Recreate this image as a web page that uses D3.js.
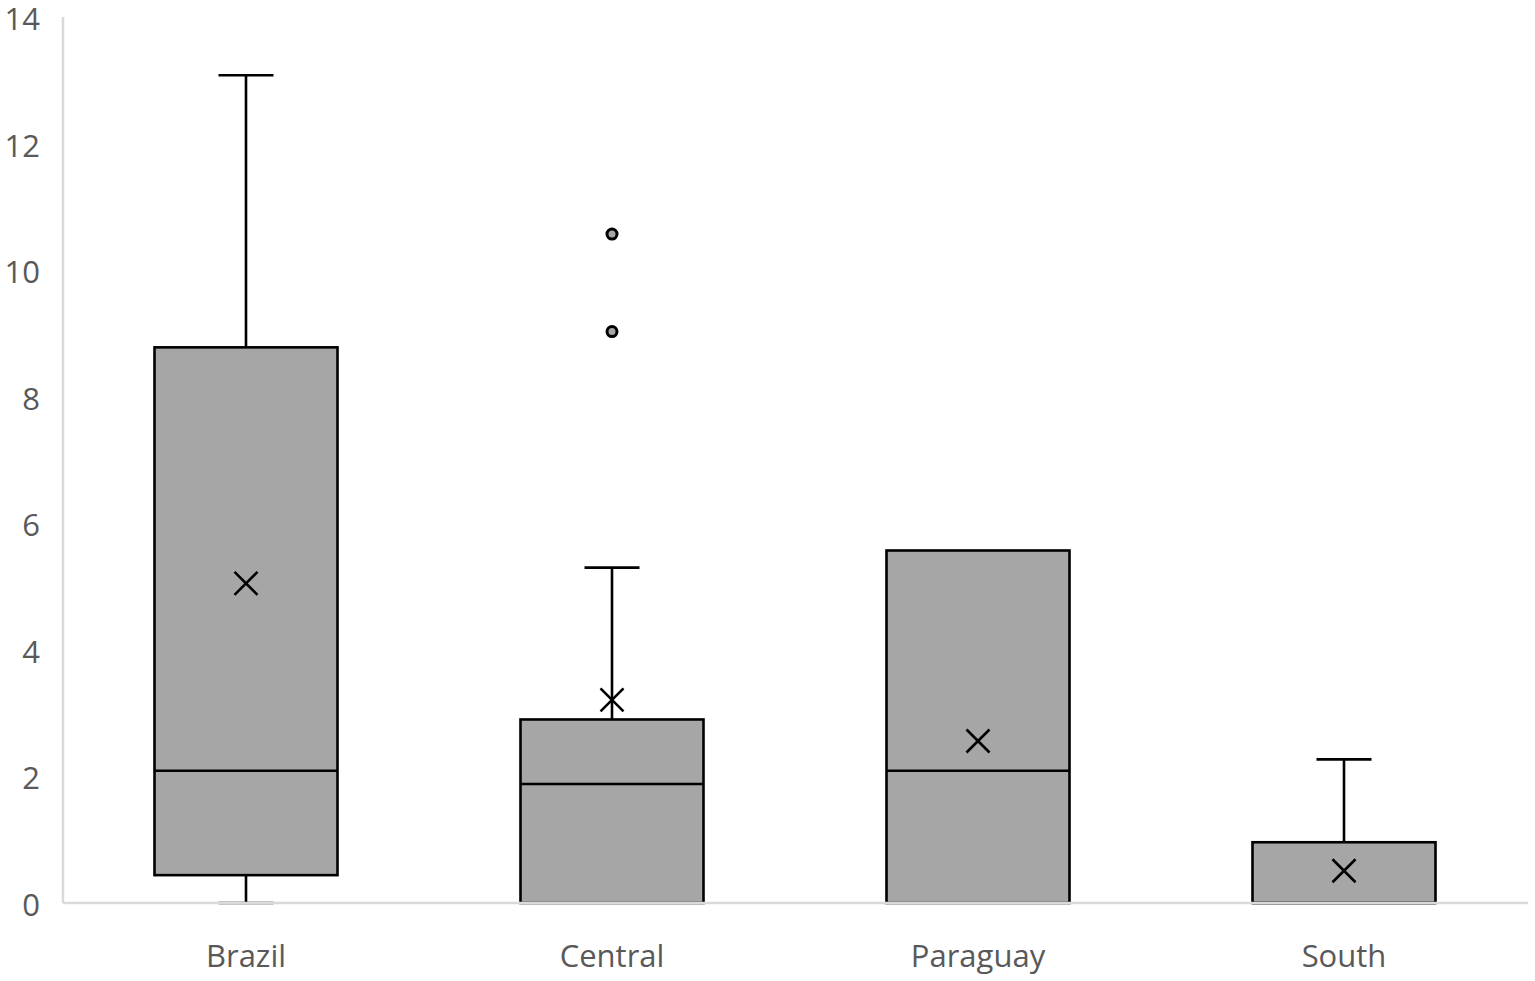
<!DOCTYPE html>
<html>
<head>
<meta charset="utf-8">
<script src="https://cdn.jsdelivr.net/npm/d3@7"></script>
<style>
  body { margin: 0; background: #fff; }
  text { font-family: "Open Sans", "Noto Sans", sans-serif; fill: #595959; }
</style>
</head>
<body>
<svg id="chart" width="1535" height="981"></svg>
<script>
const categories = ["Brazil", "Central", "Paraguay", "South"];
const whiskerLow = [0, 0, 0, 0];
const q1 = [0.44, 0, 0, 0];
const median = [2.09, 1.88, 2.09, 0];
const q3 = [8.78, 2.90, 5.57, 0.96];
const whiskerHigh = [13.08, 5.30, 5.57, 2.27];
const means = [5.05, 3.21, 2.56, 0.51];
const outliers = [[], [9.03, 10.57], [], []];
const yTicks = [0, 2, 4, 6, 8, 10, 12, 14];

const margin = { left: 63, top: 17, right: 8, bottom: 78 };
const width = 1535, height = 981;
const boxFill = "#a6a6a6";
const axisColor = "#d9d9d9";

const svg = d3.select("#chart");

const x = d3.scaleBand()
    .domain(categories)
    .range([margin.left, width - margin.right])
    .paddingInner(0)
    .paddingOuter(0);

const y = d3.scaleLinear()
    .domain([0, 14])
    .range([height - margin.bottom, margin.top]);

const boxW = x.bandwidth() * 0.5;
const capW = 55;

const rows = categories.map((c, i) => ({
    name: c, lo: whiskerLow[i], q1: q1[i], med: median[i], q3: q3[i],
    hi: whiskerHigh[i], mean: means[i], out: outliers[i]
}));

const g = svg.append("g");

rows.forEach(d => {
    const cx = x(d.name) + x.bandwidth() / 2;
    const grp = g.append("g");

    // whiskers
    if (d.hi > d.q3) {
        grp.append("line").attr("x1", cx).attr("x2", cx)
            .attr("y1", y(d.q3)).attr("y2", y(d.hi))
            .attr("stroke", "#000").attr("stroke-width", 2.6);
        grp.append("line").attr("x1", cx - capW / 2).attr("x2", cx + capW / 2)
            .attr("y1", y(d.hi)).attr("y2", y(d.hi))
            .attr("stroke", "#000").attr("stroke-width", 2.6);
    }
    if (d.lo < d.q1) {
        grp.append("line").attr("x1", cx).attr("x2", cx)
            .attr("y1", y(d.q1)).attr("y2", y(d.lo))
            .attr("stroke", "#000").attr("stroke-width", 2.6);
        grp.append("line").attr("x1", cx - capW / 2).attr("x2", cx + capW / 2)
            .attr("y1", y(d.lo)).attr("y2", y(d.lo))
            .attr("stroke", "#000").attr("stroke-width", 2.6);
    }

    // box
    grp.append("rect")
        .attr("x", cx - boxW / 2).attr("width", boxW)
        .attr("y", y(d.q3)).attr("height", y(d.q1) - y(d.q3))
        .attr("fill", boxFill).attr("stroke", "#000").attr("stroke-width", 2.6);

    // median
    grp.append("line").attr("x1", cx - boxW / 2).attr("x2", cx + boxW / 2)
        .attr("y1", y(d.med)).attr("y2", y(d.med))
        .attr("stroke", "#000").attr("stroke-width", 2.6);

    // mean marker
    const s = 11.5;
    const my = y(d.mean);
    grp.append("path")
        .attr("d", `M${cx - s},${my - s}L${cx + s},${my + s}M${cx - s},${my + s}L${cx + s},${my - s}`)
        .attr("stroke", "#000").attr("stroke-width", 2.6).attr("fill", "none");

    // outliers
    grp.selectAll("circle").data(d.out).join("circle")
        .attr("cx", cx).attr("cy", v => y(v)).attr("r", 5)
        .attr("fill", boxFill).attr("stroke", "#000").attr("stroke-width", 3);
});

// axes lines on top
svg.append("line")
    .attr("x1", margin.left).attr("x2", width - margin.right + 1)
    .attr("y1", y(0)).attr("y2", y(0))
    .attr("stroke", axisColor).attr("stroke-width", 2.5);
svg.append("line")
    .attr("x1", margin.left).attr("x2", margin.left)
    .attr("y1", y(0)).attr("y2", y(14))
    .attr("stroke", axisColor).attr("stroke-width", 2.5);

// y tick labels
svg.selectAll(".ytick").data(yTicks).join("text")
    .attr("class", "ytick")
    .attr("x", 40).attr("y", d => y(d)).attr("dy", "0.42em")
    .attr("text-anchor", "end")
    .style("font-size", "31px")
    .text(d => d);

// x labels
svg.selectAll(".xlab").data(categories).join("text")
    .attr("class", "xlab")
    .attr("x", d => x(d) + x.bandwidth() / 2)
    .attr("y", 967)
    .attr("text-anchor", "middle")
    .style("font-size", "31px")
    .text(d => d);
</script>
</body>
</html>
